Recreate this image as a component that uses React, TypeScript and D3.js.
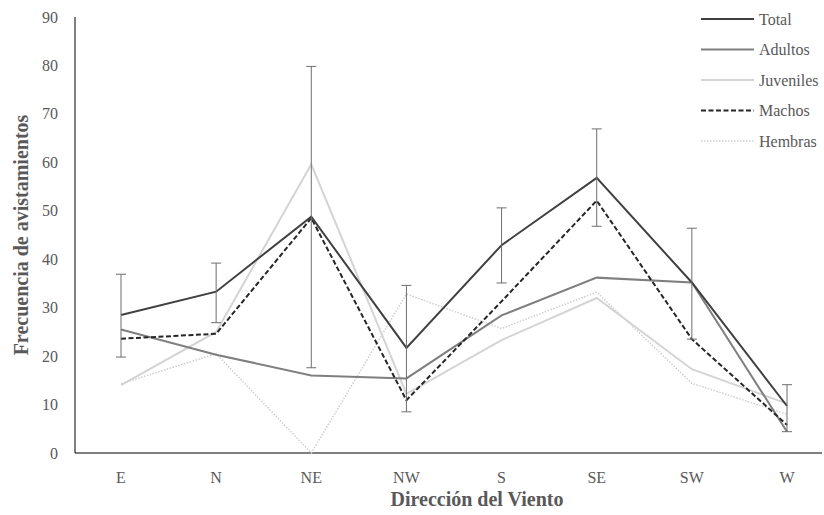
import React from "react";
import * as d3 from "d3";

const categories = ["E", "N", "NE", "NW", "S", "SE", "SW", "W"];
const total = [28.5, 33.3, 48.8, 21.7, 42.9, 56.8, 35.2, 9.7];
const totalLow = [19.8, 26.9, 17.6, 8.5, 35.1, 46.8, 23.5, 4.4];
const totalHigh = [36.9, 39.2, 79.8, 34.6, 50.6, 66.9, 46.4, 14.1];
const adultos = [25.5, 20.3, 16.0, 15.4, 28.4, 36.2, 35.2, 4.4];
const juveniles = [14.0, 25.0, 59.6, 12.2, 23.3, 32.0, 17.3, 10.2];
const machos = [23.6, 24.6, 48.5, 10.9, 31.3, 52.1, 23.5, 5.8];
const hembras = [14.3, 20.5, 0, 32.8, 25.7, 33.2, 14.4, 8.0];
const yTicks = [0, 10, 20, 30, 40, 50, 60, 70, 80, 90];

const W = 824;
const H = 515;
const FONT = "'Liberation Serif', 'Times New Roman', serif";
const TEXT = "#595959";

const series = [
  { name: "Total", values: total, color: "#404040", width: 2, dash: "" },
  { name: "Adultos", values: adultos, color: "#7f7f7f", width: 2, dash: "" },
  { name: "Juveniles", values: juveniles, color: "#d4d4d4", width: 2, dash: "" },
  { name: "Machos", values: machos, color: "#262626", width: 2, dash: "5,2.5" },
  { name: "Hembras", values: hembras, color: "#cfcfcf", width: 1.5, dash: "1.5,1.5" },
];

export default function App() {
  const x = d3.scalePoint<string>().domain(categories).range([121, 787]);
  const y = d3.scaleLinear().domain([0, 90]).range([453, 17]);
  const axisLeft = 75;
  const axisRight = 822;

  const line = d3
    .line<number>()
    .x((_, i) => x(categories[i]) as number)
    .y((d) => y(d));

  // draw order: light lines first so darker ones sit on top
  const drawOrder = ["Hembras", "Juveniles", "Adultos", "Machos", "Total"];

  return (
    <svg
      width={W}
      height={H}
      style={{ position: "absolute", left: 0, top: 0, background: "#fff" }}
      fontFamily={FONT}
    >
      <rect width={W} height={H} fill="#fff" />

      {/* y tick labels */}
      {yTicks.map((t) => (
        <text
          key={t}
          x={58}
          y={y(t)}
          dy="0.35em"
          textAnchor="end"
          fontSize={16}
          fill={TEXT}
        >
          {t}
        </text>
      ))}

      {/* x tick labels */}
      {categories.map((c) => (
        <text
          key={c}
          x={x(c)}
          y={477}
          dy="0.35em"
          textAnchor="middle"
          fontSize={16}
          fill={TEXT}
        >
          {c}
        </text>
      ))}

      {/* axes */}
      <line x1={axisLeft} x2={axisLeft} y1={y(90)} y2={y(0)} stroke="#000" strokeWidth={1} />
      <line x1={axisLeft} x2={axisRight} y1={y(0)} y2={y(0)} stroke="#000" strokeWidth={1.2} />

      {/* series lines */}
      {drawOrder.map((n) => {
        const s = series.find((q) => q.name === n)!;
        return (
          <path
            key={s.name}
            d={line(s.values) || ""}
            fill="none"
            stroke={s.color}
            strokeWidth={s.width}
            strokeDasharray={s.dash || undefined}
            strokeLinejoin="miter"
          />
        );
      })}

      {/* error bars on Total */}
      {categories.map((c, i) => {
        const cx = x(c) as number;
        return (
          <g key={c} stroke="#6f6f6f" strokeWidth={1}>
            <line x1={cx} x2={cx} y1={y(totalLow[i])} y2={y(totalHigh[i])} />
            <line x1={cx - 5} x2={cx + 5} y1={y(totalLow[i])} y2={y(totalLow[i])} />
            <line x1={cx - 5} x2={cx + 5} y1={y(totalHigh[i])} y2={y(totalHigh[i])} />
          </g>
        );
      })}

      {/* legend */}
      {series.map((s, i) => {
        const ly = 19 + i * 30.5;
        return (
          <g key={s.name}>
            <line
              x1={701}
              x2={754}
              y1={ly}
              y2={ly}
              stroke={s.color}
              strokeWidth={s.width}
              strokeDasharray={s.dash || undefined}
            />
            <text x={759} y={ly} dy="0.35em" fontSize={16} fill={TEXT}>
              {s.name}
            </text>
          </g>
        );
      })}

      {/* axis titles */}
      <text
        x={477}
        y={506}
        textAnchor="middle"
        fontSize={20}
        fontWeight="bold"
        fill={TEXT}
      >
        Dirección del Viento
      </text>
      <text
        transform={`translate(28,235) rotate(-90)`}
        textAnchor="middle"
        fontSize={20}
        fontWeight="bold"
        fill={TEXT}
      >
        Frecuencia de avistamientos
      </text>
    </svg>
  );
}
